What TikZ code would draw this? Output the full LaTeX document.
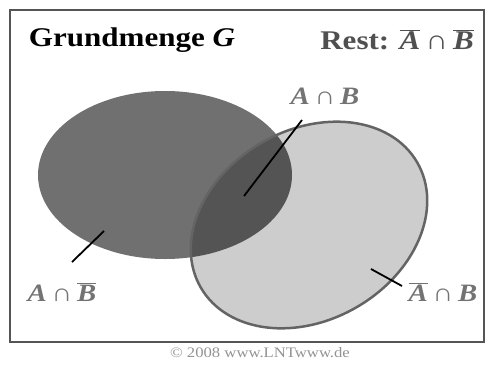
\documentclass[tikz,border=0pt]{standalone}
\usepackage{fontspec}
\setmainfont{Liberation Serif}
\usepackage{graphicx}

\definecolor{setA}{RGB}{112,112,112}
\definecolor{setAB}{RGB}{84,84,84}
\definecolor{setB}{RGB}{205,205,205}
\definecolor{rim}{RGB}{100,100,100}
\definecolor{labgray}{RGB}{115,115,115}
\definecolor{restgray}{RGB}{80,80,80}

\newcommand{\wide}[1]{\scalebox{1.15}[1]{#1}}
\newcommand{\nt}[1]{$\overline{\mbox{#1}}$}

\begin{document}
\begin{tikzpicture}[
  x=1pt,y=-1pt,
  head/.style={font=\fontsize{27}{29}\selectfont\bfseries},
  setlabel/.style={text=labgray,font=\fontsize{25}{28}\selectfont\bfseries\itshape},
  pointer/.style={line width=1.8pt,black}
]
  \useasboundingbox (0,0) rectangle (486,372);
  \draw[rim!85!black,line width=2pt] (10,10) rectangle (484,342);

  % the two sets, B tilted, overlap darker
  \fill[setA] (165,175) ellipse [x radius=127,y radius=84];
  \fill[setB] (309,225) ellipse [x radius=125,y radius=95,rotate=30];
  \begin{scope}
    \clip (165,175) ellipse [x radius=127,y radius=84];
    \fill[setAB] (309,225) ellipse [x radius=125,y radius=95,rotate=30];
  \end{scope}
  \draw[rim,line width=2.5pt] (309,225) ellipse [x radius=125,y radius=95,rotate=30];

  % headings
  \node[head] (title) at (132,40) {\wide{Grundmenge \textit{G}}};
  \node[head,text=restgray] (rest) at (397,40)
    {\wide{Rest: \nt{\textit{A}}\,∩\,\nt{\textit{B}}}};

  % set labels with pointers
  \node[setlabel] (lab) at (325,96) {\wide{\textit{A}\,∩\,\textit{B}}};
  \node[setlabel] (labn) at (62,292) {\wide{\textit{A}\,∩\,\nt{\textit{B}}}};
  \node[setlabel] (lnab) at (443,292) {\wide{\nt{\textit{A}}\,∩\,\textit{B}}};

  \coordinate (inAB) at (244,196);
  \coordinate (tipAB) at (302,120);
  \coordinate (inAnB) at (104,231);
  \coordinate (tipAnB) at (72,262);
  \coordinate (innAB) at (371,269);
  \coordinate (tipnAB) at (402,286);
  \draw[pointer] (inAB) -- (tipAB);
  \draw[pointer] (inAnB) -- (tipAnB);
  \draw[pointer] (innAB) -- (tipnAB);

  \node[text=gray!85,font=\fontsize{14.5}{16}\selectfont] (copy) at (260,353)
    {\wide{\textcopyright{} 2008 www.LNTwww.de}};
\end{tikzpicture}
\end{document}
